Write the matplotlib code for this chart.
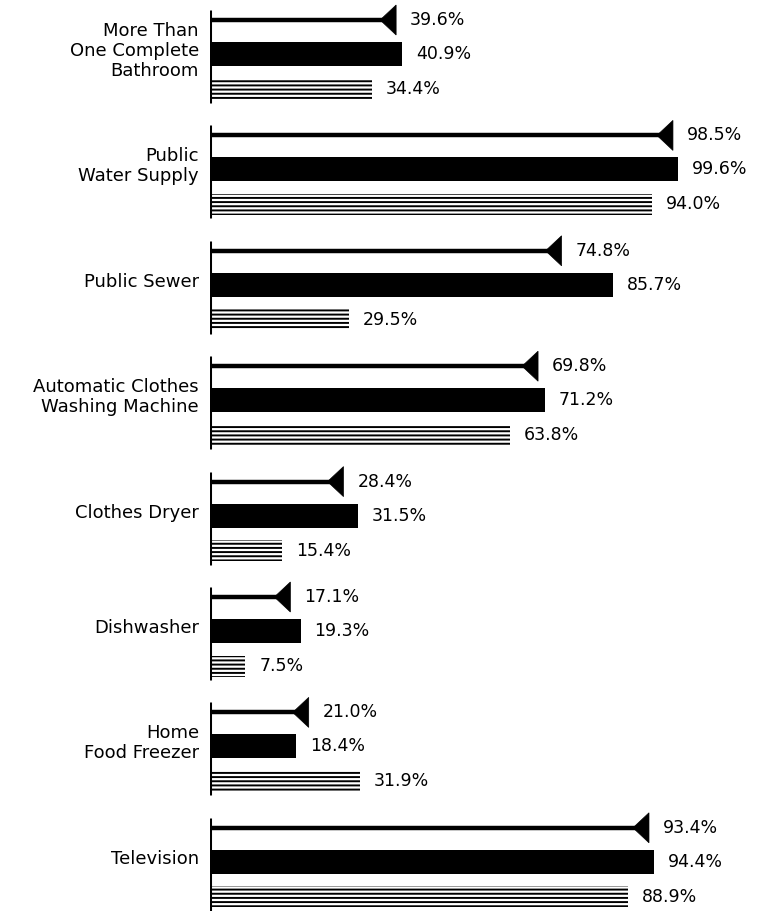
import matplotlib
matplotlib.use("Agg")
import matplotlib.pyplot as plt
from matplotlib.patches import Polygon

categories = ["More Than\nOne Complete\nBathroom", "Public\nWater Supply", "Public Sewer",
              "Automatic Clothes\nWashing Machine", "Clothes Dryer", "Dishwasher",
              "Home\nFood Freezer", "Television"]
arrow_vals = [39.6, 98.5, 74.8, 69.8, 28.4, 17.1, 21.0, 93.4]
black_vals = [40.9, 99.6, 85.7, 71.2, 31.5, 19.3, 18.4, 94.4]
striped_vals = [34.4, 94.0, 29.5, 63.8, 15.4, 7.5, 31.9, 88.9]

plt.rcParams['font.family'] = ['DejaVu Sans']
plt.rcParams['hatch.linewidth'] = 1.4

fig = plt.figure(figsize=(7.59, 9.11), dpi=100)
ax = fig.add_axes([210 / 759, 0, 549 / 759, 1])
ax.set_xlim(0, 549 / 4.7)
spacing = 115.4
ax.set_ylim((911 - 20) / spacing, -20 / spacing)
ax.axis('off')

off_black = 34 / spacing
off_str = 69 / spacing
h_black = 24 / spacing
h_str = 21 / spacing
tri_w = 16 / 4.7
tri_h = 30 / spacing

for i, cat in enumerate(categories):
    y0 = i
    # group axis line
    ax.plot([0, 0], [y0 - 10 / spacing, y0 + off_str + 14 / spacing], color='black', lw=2.2,
            solid_capstyle='butt')
    # arrow line
    a = arrow_vals[i]
    ax.plot([0, a - tri_w * 0.5], [y0, y0], color='black', lw=3.2, solid_capstyle='butt')
    ax.add_patch(Polygon([[a - tri_w, y0], [a, y0 - tri_h / 2], [a, y0 + tri_h / 2]],
                         closed=True, facecolor='black', edgecolor='black', lw=0.5))
    ax.annotate(f"{a:.1f}%", (a, y0), xytext=(10, 0), textcoords='offset points',
                va='center', ha='left', fontsize=12.5)
    # black bar
    b = black_vals[i]
    ax.barh(y0 + off_black, b, height=h_black, left=0, color='black')
    ax.annotate(f"{b:.1f}%", (b, y0 + off_black), xytext=(10, 0), textcoords='offset points',
                va='center', ha='left', fontsize=12.5)
    # striped bar
    s = striped_vals[i]
    ax.barh(y0 + off_str, s, height=h_str, left=0, facecolor='white', edgecolor='black',
            hatch='----', lw=0)
    ax.annotate(f"{s:.1f}%", (s, y0 + off_str), xytext=(10, 0), textcoords='offset points',
                va='center', ha='left', fontsize=12.5)
    # category label
    ax.annotate(cat, (0, y0 + off_black - 3 / spacing), xytext=(-8, 0), textcoords='offset points',
                va='center', ha='right', fontsize=13, linespacing=1.15, annotation_clip=False)

fig.savefig("out.png", dpi=100)
